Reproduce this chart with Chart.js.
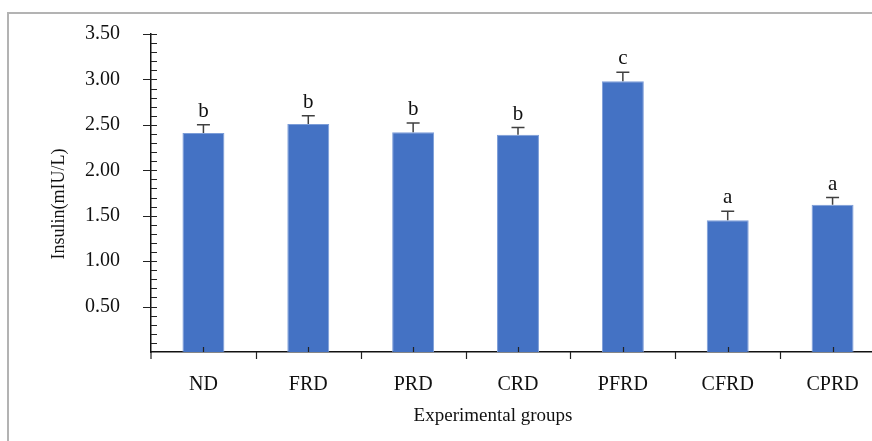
<!DOCTYPE html>
<html>
<head>
<meta charset="utf-8">
<script src="https://cdn.jsdelivr.net/npm/chart.js@4/dist/chart.umd.min.js"></script>
<style>
  html, body { margin: 0; padding: 0; background: #fff; overflow: hidden; }
  body { width: 872px; height: 441px; }
  canvas { display: block; }
</style>
</head>
<body>
<canvas id="myChart" width="885" height="441"></canvas>
<script>
'use strict'

// data
var groups = ['ND', 'FRD', 'PRD', 'CRD', 'PFRD', 'CFRD', 'CPRD'];
var insulin = [2.41, 2.51, 2.42, 2.39, 2.98, 1.45, 1.62];
var errors = [0.09, 0.09, 0.10, 0.08, 0.10, 0.10, 0.08];
var letters = ['b', 'b', 'b', 'b', 'c', 'a', 'a'];
var yTicks = [0.5, 1.0, 1.5, 2.0, 2.5, 3.0, 3.5];

var serif = '"Liberation Serif", "DejaVu Serif", serif';

// frame, axis ticks, titles, error bars and letters
var extras = {
  id: 'extras',
  afterDatasetsDraw: function(chart) {
    var ctx = chart.ctx;
    var x = chart.scales.x;
    var y = chart.scales.y;
    var area = chart.chartArea;
    ctx.save();

    // grey frame (top and left only)
    ctx.strokeStyle = '#b3b3b3';
    ctx.lineWidth = 2;
    ctx.beginPath();
    ctx.moveTo(8, 441);
    ctx.lineTo(8, 13);
    ctx.lineTo(chart.width, 13);
    ctx.stroke();

    // y ticks: majors cross the axis, minors inside
    ctx.strokeStyle = '#222';
    ctx.lineWidth = 1.2;
    ctx.beginPath();
    for (var v = 1; v <= 35; v++) {
      var py = Math.round(y.getPixelForValue(v / 10)) + 0.5;
      if (v % 5 === 0) {
        ctx.moveTo(area.left - 8, py);
      } else {
        ctx.moveTo(area.left, py);
      }
      ctx.lineTo(area.left + 6, py);
    }
    // y axis runs a little below the x axis
    ctx.moveTo(area.left, area.bottom);
    ctx.lineTo(area.left, area.bottom + 7);
    // x ticks between groups (down) and at group centres (up)
    for (var i = 0; i < groups.length; i++) {
      var cx = Math.round(x.getPixelForValue(i)) + 0.5;
      ctx.moveTo(cx, area.bottom);
      ctx.lineTo(cx, area.bottom - 5);
      if (i > 0) {
        var bx = Math.round((x.getPixelForValue(i) + x.getPixelForValue(i - 1)) / 2) + 0.5;
        ctx.moveTo(bx, area.bottom);
        ctx.lineTo(bx, area.bottom + 7);
      }
    }
    ctx.stroke();

    // axis titles
    ctx.fillStyle = '#111';
    ctx.textAlign = 'center';
    ctx.textBaseline = 'middle';
    ctx.font = '19px ' + serif;
    ctx.fillText('Experimental groups', 493, 416);
    ctx.save();
    ctx.translate(59, 204);
    ctx.rotate(-Math.PI / 2);
    ctx.font = '18px ' + serif;
    ctx.fillText('Insulin(mIU/L)', 0, 0);
    ctx.restore();

    // error bars and significance letters
    var meta = chart.getDatasetMeta(0);
    ctx.strokeStyle = '#404040';
    ctx.lineWidth = 1.5;
    ctx.font = '21px ' + serif;
    ctx.textBaseline = 'alphabetic';
    meta.data.forEach(function(bar, i) {
      var top = y.getPixelForValue(insulin[i]);
      var errTop = y.getPixelForValue(insulin[i] + errors[i]);
      ctx.beginPath();
      ctx.moveTo(bar.x, top);
      ctx.lineTo(bar.x, errTop);
      ctx.moveTo(bar.x - 6.5, errTop);
      ctx.lineTo(bar.x + 6.5, errTop);
      ctx.stroke();
      ctx.fillText(letters[i], bar.x, errTop - 8);
    });
    ctx.restore();
  }
};

var ctx = document.getElementById('myChart').getContext('2d');
var chart = new Chart(ctx, {
  type: 'bar',
  data: {
    labels: groups,
    datasets: [{
      label: 'Insulin',
      data: insulin,
      backgroundColor: '#4472C4',
      borderColor: '#7C9DD8',
      borderWidth: 1,
      barPercentage: 0.4,
      categoryPercentage: 1
    }]
  },
  options: {
    responsive: false,
    animation: false,
    devicePixelRatio: 1,
    layout: { padding: { top: 34, left: 0, right: 0, bottom: 0 } },
    plugins: {
      legend: { display: false },
      tooltip: { enabled: false }
    },
    scales: {
      x: {
        offset: true,
        grid: { display: false, drawTicks: false },
        border: { display: true, color: '#111', width: 1.5 },
        ticks: {
          color: '#111',
          padding: 21,
          font: { family: serif, size: 20 }
        },
        afterFit: function(scale) { scale.height = 89; }
      },
      y: {
        min: 0,
        max: 3.5,
        grid: { display: false, drawTicks: false },
        border: { display: true, color: '#111', width: 1.5 },
        afterBuildTicks: function(scale) {
          scale.ticks = yTicks.map(function(v) { return { value: v }; });
        },
        ticks: {
          color: '#111',
          padding: 31,
          font: { family: serif, size: 20 },
          callback: function(v) { return Number(v).toFixed(2); }
        },
        afterFit: function(scale) {
          scale.width = 151;
          scale.paddingTop = 0;
          scale.paddingBottom = 0;
        }
      }
    }
  },
  plugins: [extras]
});
</script>
</body>
</html>
